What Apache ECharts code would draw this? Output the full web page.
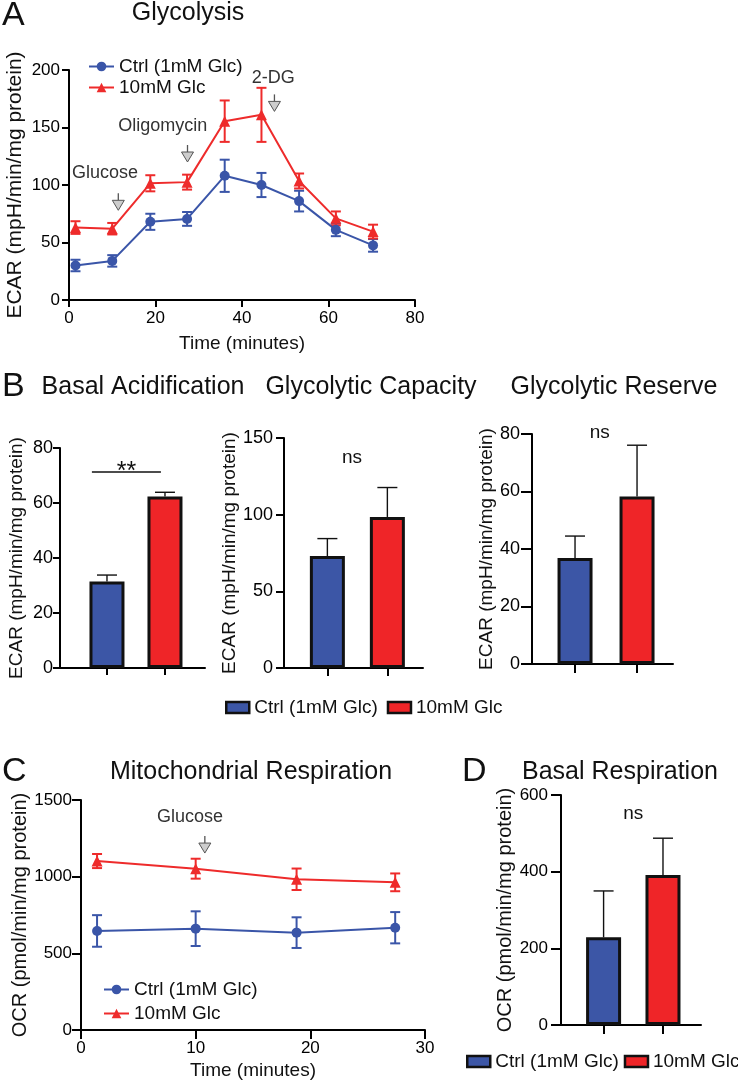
<!DOCTYPE html>
<html>
<head>
<meta charset="utf-8">
<script src="https://cdn.jsdelivr.net/npm/echarts@6/dist/echarts.min.js"></script>
<style>
html,body{margin:0;padding:0;background:#ffffff;}
#c{width:738px;height:1083px;}
</style>
</head>
<body>
<div id="c"></div>
<script>
// ---------------- DATA ----------------
// Panel A: Glycolysis (ECAR over time)
const glyTime    = [1.5, 10, 18.8, 27.3, 36, 44.5, 53.2, 61.7, 70.3];
const glyCtrl    = [30, 34, 68, 70.5, 108, 100, 86, 61, 47.5];
const glyCtrlErr = [5, 5, 7, 6, 14, 10.5, 9, 5.5, 5.5];
const glyHigh    = [63, 62, 101.5, 102.5, 155.5, 161, 103.5, 71, 59.5];
const glyHighErr = [5.5, 5, 7, 6.5, 18, 23.5, 6.5, 6, 6];
const glyAnnoText  = ['Glucose', 'Oligomycin', '2-DG'];
const glyAnnoTextX = [8.3, 21.7, 47.2];
const glyAnnoTextY = [110, 151, 193];
const glyArrowX    = [11.4, 27.4, 47.5];
const glyArrowY    = [78, 120, 164];

// Panel B: bar summaries [Ctrl, 10mM]
const barPos       = [1, 2];
const basalAcid    = [31.5, 62.4];
const basalAcidErr = [2.3, 1.5];
const glyCapacity    = [73, 98.5];
const glyCapacityErr = [11.4, 19.2];
const glyReserve     = [36.9, 58.3];
const glyReserveErr  = [7.6, 17.8];
const basalSigLineX = [0.74, 1.93];
const basalSigLineY = 71.3;

// Panel C: Mitochondrial respiration (OCR over time)
const ocrTime    = [1.4, 10, 18.8, 27.4];
const ocrCtrl    = [646, 661, 635, 667];
const ocrCtrlErr = [103, 113, 100, 102];
const ocrHigh    = [1102, 1052, 983, 963];
const ocrHighErr = [46, 65, 70, 58];
const ocrAnnoText = ['Glucose'];
const ocrAnnoTextX = [9.5];
const ocrAnnoTextY = [1389];
const ocrArrowX = [10.8];
const ocrArrowY = [1154];

// Panel D: Basal respiration
const basalResp    = [228.7, 391.3];
const basalRespErr = [121, 96];

const legendLabels = ['Ctrl (1mM Glc)', '10mM Glc'];

// ---------------- STYLE ----------------
const FF = "'Liberation Sans', Arial, Helvetica, sans-serif";
const LINE_BLUE = '#3a55a8';
const LINE_RED  = '#ee2b2b';
const BAR_BLUE  = '#3c56a6';
const BAR_RED   = '#ef2528';
const INK = '#111111';

const nameMap = {
  aCtrl: legendLabels[0], aHigh: legendLabels[1],
  bCtrl: legendLabels[0], bHigh: legendLabels[1],
  cCtrl: legendLabels[0], cHigh: legendLabels[1],
  dCtrl: legendLabels[0], dHigh: legendLabels[1]
};

function plainNum(v) { return String(v); }

function valAxis(gi, min, max, interval, fs, tickLen, margin, extra) {
  return Object.assign({
    type: 'value', gridIndex: gi, min: min, max: max, interval: interval,
    axisLine: {show: true, onZero: false, lineStyle: {color: '#000', width: 2}},
    axisTick: {show: true, length: tickLen, lineStyle: {color: '#000', width: 2}},
    axisLabel: {show: true, color: '#000', fontSize: fs, fontFamily: FF, margin: margin, formatter: plainNum},
    splitLine: {show: false}
  }, extra || {});
}

function barXAxis(gi, min, max, tickLen) {
  return {
    type: 'value', gridIndex: gi, min: min, max: max,
    axisLine: {show: true, onZero: false, lineStyle: {color: '#000', width: 2}},
    axisTick: {show: true, length: tickLen, customValues: barPos, lineStyle: {color: '#000', width: 2}},
    axisLabel: {show: false},
    splitLine: {show: false}
  };
}

function yName(text, gap, fs) {
  return {
    name: text, nameLocation: 'middle', nameRotate: 90, nameGap: gap,
    nameTextStyle: {fontSize: fs, color: INK, fontFamily: FF}
  };
}

function errSeries(ai, pts, color, lw, capHalf, upperOnly) {
  return {
    type: 'custom', xAxisIndex: ai, yAxisIndex: ai, z: 4, silent: true,
    data: pts,
    renderItem: function (params, api) {
      const x = api.value(0), lo = api.value(1), hi = api.value(2);
      const a = api.coord([x, lo]), b = api.coord([x, hi]);
      const st = {stroke: color, lineWidth: lw, fill: null};
      const ch = [
        {type: 'line', shape: {x1: a[0], y1: a[1], x2: b[0], y2: b[1]}, style: st},
        {type: 'line', shape: {x1: b[0] - capHalf, y1: b[1], x2: b[0] + capHalf, y2: b[1]}, style: st}
      ];
      if (!upperOnly) {
        ch.push({type: 'line', shape: {x1: a[0] - capHalf, y1: a[1], x2: a[0] + capHalf, y2: a[1]}, style: st});
      }
      return {type: 'group', children: ch};
    }
  };
}

function arrowSeries(ai, xs, ys) {
  return {
    type: 'custom', xAxisIndex: ai, yAxisIndex: ai, z: 6, silent: true,
    data: xs.map(function (x, i) { return [x, ys[i]]; }),
    renderItem: function (params, api) {
      const c = api.coord([api.value(0), api.value(1)]);
      return {type: 'group', children: [
        {type: 'line', shape: {x1: c[0], y1: c[1] - 17, x2: c[0], y2: c[1] - 10},
         style: {stroke: '#555', lineWidth: 1.3}},
        {type: 'polygon', shape: {points: [[c[0] - 6, c[1] - 10], [c[0] + 6, c[1] - 10], [c[0], c[1]]]},
         style: {fill: '#cdcdcd', stroke: '#555', lineWidth: 1}}
      ]};
    }
  };
}

function textSeries(ai, xs, ys, texts, fs, color) {
  return {
    type: 'custom', xAxisIndex: ai, yAxisIndex: ai, z: 6, silent: true,
    data: xs.map(function (x, i) { return [x, ys[i], i]; }),
    renderItem: function (params, api) {
      const c = api.coord([api.value(0), api.value(1)]);
      return {type: 'text', x: c[0], y: c[1],
        style: {text: texts[api.value(2)], fontSize: fs, fontFamily: FF, fill: color,
                align: 'center', verticalAlign: 'middle'}};
    }
  };
}

function barPair(ai, vals, names) {
  const common = {type: 'bar', xAxisIndex: ai, yAxisIndex: ai, barWidth: 35, barGap: '-100%', z: 2, silent: true};
  return [
    Object.assign({}, common, {name: names[0], data: [[barPos[0], vals[0]]],
      itemStyle: {color: BAR_BLUE, borderColor: INK, borderWidth: 3}}),
    Object.assign({}, common, {name: names[1], data: [[barPos[1], vals[1]]],
      itemStyle: {color: BAR_RED, borderColor: INK, borderWidth: 3}})
  ];
}

function barErr(ai, vals, errs) {
  return errSeries(ai, barPos.map(function (p, i) { return [p, vals[i], vals[i] + errs[i]]; }),
    INK, 1.4, 10, true);
}

function lineSeries(ai, name, xs, ys, color, symbol, size) {
  return {
    type: 'line', name: name, xAxisIndex: ai, yAxisIndex: ai, z: 5, silent: true,
    data: xs.map(function (x, i) { return [x, ys[i]]; }),
    symbol: symbol, symbolSize: size, showSymbol: true,
    itemStyle: {color: color}, lineStyle: {color: color, width: 2}, animation: false
  };
}

function zipErr(xs, ys, es) {
  return xs.map(function (x, i) { return [x, ys[i] - es[i], ys[i] + es[i]]; });
}

// ---------------- OPTION ----------------
const option = {
  animation: false,
  backgroundColor: '#ffffff',
  textStyle: {fontFamily: FF},
  grid: [
    {left: 69,  top: 70,  width: 346, height: 230},   // A
    {left: 60,  top: 448, width: 145, height: 220},   // B1
    {left: 284, top: 438, width: 139, height: 230},   // B2
    {left: 532, top: 434, width: 141, height: 230},   // B3
    {left: 81,  top: 800, width: 344, height: 230},   // C
    {left: 561, top: 795, width: 140, height: 230}    // D
  ],
  xAxis: [
    valAxis(0, 0, 80, 20, 17, 7, 10, Object.assign({name: 'Time (minutes)', nameLocation: 'middle', nameGap: 34,
      nameTextStyle: {fontSize: 19, color: INK, fontFamily: FF}})),
    barXAxis(1, 0.19, 2.69, 7),
    barXAxis(2, 0.277, 2.594, 8),
    barXAxis(3, 0.306, 2.58, 9),
    valAxis(4, 0, 30, 10, 17, 9, 10, {name: 'Time (minutes)', nameLocation: 'middle', nameGap: 31,
      nameTextStyle: {fontSize: 19, color: INK, fontFamily: FF}}),
    barXAxis(5, 0.283, 2.64, 9)
  ],
  yAxis: [
    valAxis(0, 0, 200, 50, 17, 7, 9, yName('ECAR (mpH/min/mg protein)', 43, 21)),
    valAxis(1, 0, 80, 20, 18, 7, 7, yName('ECAR (mpH/min/mg protein)', 34, 19)),
    valAxis(2, 0, 150, 50, 18, 8, 11, yName('ECAR (mpH/min/mg protein)', 35, 19)),
    valAxis(3, 0, 80, 20, 18, 11, 12, yName('ECAR (mpH/min/mg protein)', 35, 19)),
    valAxis(4, 0, 1500, 500, 17, 9, 9, yName('OCR (pmol/min/mg protein)', 47, 20)),
    valAxis(5, 0, 600, 200, 17, 10, 13, yName('OCR (pmol/min/mg protein)', 40, 20))
  ],
  legend: [
    {data: ['aCtrl', 'aHigh'], orient: 'vertical', left: 83, top: 52, itemWidth: 25, itemHeight: 12, itemGap: 2,
     selectedMode: false, formatter: function (n) { return nameMap[n]; },
     textStyle: {fontSize: 19, color: INK, fontFamily: FF}},
    {data: ['bCtrl', 'bHigh'], orient: 'horizontal', left: 220, top: 693, itemWidth: 23, itemHeight: 11, itemGap: 9,
     selectedMode: false, icon: 'rect', formatter: function (n) { return nameMap[n]; },
     itemStyle: {borderColor: INK, borderWidth: 2.5},
     textStyle: {fontSize: 19, color: INK, fontFamily: FF}},
    {data: ['cCtrl', 'cHigh'], orient: 'vertical', left: 98, top: 975, itemWidth: 25, itemHeight: 12, itemGap: 5,
     selectedMode: false, formatter: function (n) { return nameMap[n]; },
     textStyle: {fontSize: 19, color: INK, fontFamily: FF}},
    {data: ['dCtrl', 'dHigh'], orient: 'horizontal', left: 466, top: 1052, width: 300, padding: 0,
     itemWidth: 23, itemHeight: 11, itemGap: 5,
     selectedMode: false, icon: 'rect', formatter: function (n) { return nameMap[n]; },
     itemStyle: {borderColor: INK, borderWidth: 2.5},
     textStyle: {fontSize: 19, color: INK, fontFamily: FF}}
  ],
  graphic: [
    {type: 'text', x: 2,   y: 16,  style: {text: 'A', fontSize: 34, fontFamily: FF, fill: INK, align: 'left', verticalAlign: 'middle'}},
    {type: 'text', x: 188, y: 13,  style: {text: 'Glycolysis', fontSize: 25, fontFamily: FF, fill: INK, align: 'center', verticalAlign: 'middle'}},
    {type: 'text', x: 2,   y: 387, style: {text: 'B', fontSize: 34, fontFamily: FF, fill: INK, align: 'left', verticalAlign: 'middle'}},
    {type: 'text', x: 143, y: 387, style: {text: 'Basal Acidification', fontSize: 25, fontFamily: FF, fill: INK, align: 'center', verticalAlign: 'middle'}},
    {type: 'text', x: 371, y: 387, style: {text: 'Glycolytic Capacity', fontSize: 25, fontFamily: FF, fill: INK, align: 'center', verticalAlign: 'middle'}},
    {type: 'text', x: 614, y: 387, style: {text: 'Glycolytic Reserve', fontSize: 25, fontFamily: FF, fill: INK, align: 'center', verticalAlign: 'middle'}},
    {type: 'text', x: 2,   y: 772, style: {text: 'C', fontSize: 34, fontFamily: FF, fill: INK, align: 'left', verticalAlign: 'middle'}},
    {type: 'text', x: 251, y: 772, style: {text: 'Mitochondrial Respiration', fontSize: 25, fontFamily: FF, fill: INK, align: 'center', verticalAlign: 'middle'}},
    {type: 'text', x: 462, y: 772, style: {text: 'D', fontSize: 34, fontFamily: FF, fill: INK, align: 'left', verticalAlign: 'middle'}},
    {type: 'text', x: 620, y: 772, style: {text: 'Basal Respiration', fontSize: 25, fontFamily: FF, fill: INK, align: 'center', verticalAlign: 'middle'}}
  ],
  series: [].concat(
    // Panel A
    [errSeries(0, zipErr(glyTime, glyCtrl, glyCtrlErr), LINE_BLUE, 2, 5, false),
     errSeries(0, zipErr(glyTime, glyHigh, glyHighErr), LINE_RED, 2, 5, false),
     lineSeries(0, 'aCtrl', glyTime, glyCtrl, LINE_BLUE, 'circle', 10),
     lineSeries(0, 'aHigh', glyTime, glyHigh, LINE_RED, 'triangle', 11),
     arrowSeries(0, glyArrowX, glyArrowY),
     textSeries(0, glyAnnoTextX, glyAnnoTextY, glyAnnoText, 18, '#333333')],
    // Panel B1
    barPair(1, basalAcid, ['bCtrl', 'bHigh']),
    [barErr(1, basalAcid, basalAcidErr),
     {type: 'custom', xAxisIndex: 1, yAxisIndex: 1, z: 6, silent: true,
      data: [[basalSigLineX[0], basalSigLineY, basalSigLineX[1]]],
      renderItem: function (params, api) {
        const a = api.coord([api.value(0), api.value(1)]);
        const b = api.coord([api.value(2), api.value(1)]);
        return {type: 'line', shape: {x1: a[0], y1: a[1], x2: b[0], y2: b[1]}, style: {stroke: INK, lineWidth: 1.4}};
      }},
     textSeries(1, [(basalSigLineX[0] + basalSigLineX[1]) / 2], [basalSigLineY], ['**'], 25, INK)],
    // Panel B2
    barPair(2, glyCapacity, ['bCtrl', 'bHigh']),
    [barErr(2, glyCapacity, glyCapacityErr),
     textSeries(2, [1.41], [137], ['ns'], 19, INK)],
    // Panel B3
    barPair(3, glyReserve, ['bCtrl', 'bHigh']),
    [barErr(3, glyReserve, glyReserveErr),
     textSeries(3, [1.4], [80.5], ['ns'], 19, INK)],
    // Panel C
    [errSeries(4, zipErr(ocrTime, ocrCtrl, ocrCtrlErr), LINE_BLUE, 2, 5, false),
     errSeries(4, zipErr(ocrTime, ocrHigh, ocrHighErr), LINE_RED, 2, 5, false),
     lineSeries(4, 'cCtrl', ocrTime, ocrCtrl, LINE_BLUE, 'circle', 10),
     lineSeries(4, 'cHigh', ocrTime, ocrHigh, LINE_RED, 'triangle', 11),
     arrowSeries(4, ocrArrowX, ocrArrowY),
     textSeries(4, ocrAnnoTextX, ocrAnnoTextY, ocrAnnoText, 18, '#333333')],
    // Panel D
    barPair(5, basalResp, ['dCtrl', 'dHigh']),
    [barErr(5, basalResp, basalRespErr),
     textSeries(5, [1.5], [552], ['ns'], 19, INK)]
  )
};

const chart = echarts.init(document.getElementById('c'), null, {renderer: 'canvas'});
chart.setOption(option);
</script>
</body>
</html>
